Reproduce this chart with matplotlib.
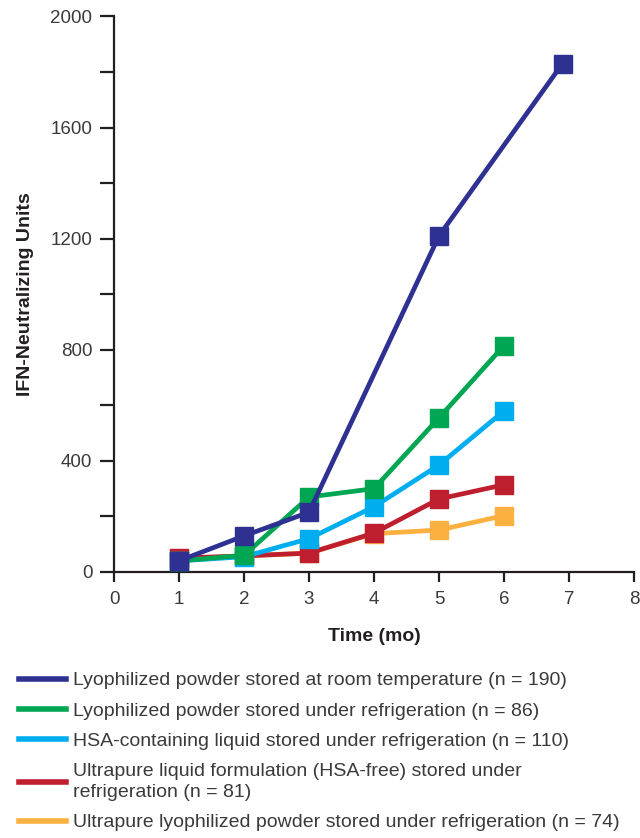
import matplotlib
matplotlib.use("Agg")
import matplotlib.pyplot as plt

plt.rcParams['font.family'] = ['Liberation Sans', 'DejaVu Sans']

months_blue = [1, 2, 3, 5, 6.9]
blue = [40, 130, 215, 1210, 1830]
months = [1, 2, 3, 4, 5, 6]
green = [40, 60, 270, 300, 555, 815]
cyan = [40, 55, 120, 235, 385, 580]
red = [50, 58, 68, 140, 263, 314]
orange = [45, 58, 68, 138, 151, 203]

labels = [
    "Lyophilized powder stored at room temperature (n = 190)",
    "Lyophilized powder stored under refrigeration (n = 86)",
    "HSA-containing liquid stored under refrigeration (n = 110)",
    "Ultrapure liquid formulation (HSA-free) stored under\nrefrigeration (n = 81)",
    "Ultrapure lyophilized powder stored under refrigeration (n = 74)",
]
colors = ["#2E3192", "#00A651", "#00AEEF", "#BE1E2D", "#FBB040"]
xticks = list(range(0, 9))
yticks = [0, 400, 800, 1200, 1600, 2000]
yminor = [200, 600, 1000, 1400, 1800]

fig = plt.figure(figsize=(6.4, 8.38), dpi=100)
ax = fig.add_axes([114/640, 1-572/838, 520/640, 555.6/838])

series = [(months_blue, blue), (months, green), (months, cyan), (months, red), (months, orange)]
zorders = [5, 4, 3, 2.5, 2]
handles = []
for (xs, ys), c, z, lab in zip(series, colors, zorders, labels):
    ax.plot(xs, ys, color=c, lw=3.4, marker='s', ms=13.5, zorder=z, clip_on=False)
    h, = ax.plot([], [], color=c, lw=4, label=lab)
    handles.append(h)

ax.set_xlim(0, 8)
ax.set_ylim(0, 2000)
ax.set_xticks(xticks)
ax.set_yticks(yticks)
ax.set_yticks(yminor, minor=True)
for s in ['top', 'right']:
    ax.spines[s].set_visible(False)
for s in ['left', 'bottom']:
    ax.spines[s].set_linewidth(1.6)
    ax.spines[s].set_color('#231F20')
ax.tick_params(axis='y', which='both', length=10, width=1.6, labelsize=13.5,
               color='#231F20', labelcolor='#3a3a3a', pad=5.5)
ax.tick_params(axis='x', length=7.5, width=1.6, labelsize=13.5,
               color='#231F20', labelcolor='#3a3a3a', pad=6.5)
ax.set_xlabel("Time (mo)", fontsize=14, fontweight='bold', labelpad=14, color='#231F20')
ax.set_ylabel("IFN-Neutralizing Units", fontsize=14, fontweight='bold', labelpad=12, color='#231F20')

leg = fig.legend(handles=handles, loc='upper left', bbox_to_anchor=(11/640, 1-664/838),
                 frameon=False, fontsize=14, handlelength=2.42, handletextpad=0.36,
                 labelspacing=0.66, borderaxespad=0, labelcolor='#3a3a3a')
leg.get_texts()[3].set_linespacing(1.3)

fig.savefig("out.png", dpi=100)
